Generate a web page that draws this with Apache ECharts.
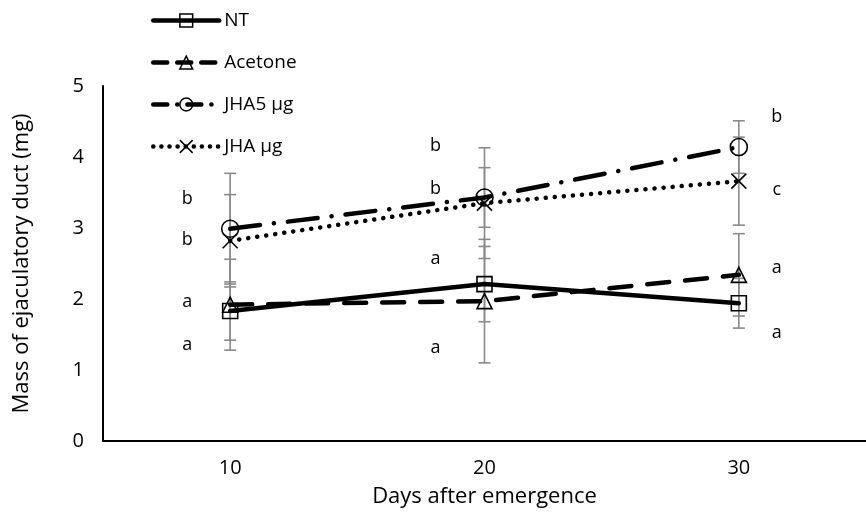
<!DOCTYPE html>
<html>
<head>
<meta charset="utf-8">
<script src="https://cdn.jsdelivr.net/npm/echarts@6/dist/echarts.min.js"></script>
<style>
	html, body { margin: 0; padding: 0; background: #fff; }
	#chart { width: 866px; height: 516px; }
</style>
</head>
<body>
<div id="chart"></div>
<script>
// categories
var days = ['10', '20', '30'];
var seriesNames = ['NT', 'Acetone', 'JHA5 µg', 'JHA µg'];

// means
var ntMean = [1.83, 2.21, 1.94];
var acetoneMean = [1.92, 1.97, 2.34];
var jha5Mean = [2.99, 3.43, 4.14];
var jhaMean = [2.82, 3.35, 3.66];

// error (+/-)
var ntErr = [0.41, 0.53, 0.35];
var acetoneErr = [0.64, 0.87, 0.58];
var jha5Err = [0.78, 0.42, 0.37];
var jhaErr = [0.65, 0.78, 0.62];

// significance letters per day, and their heights
var letters10 = ['b', 'b', 'a', 'a'];
var letters20 = ['b', 'b', 'a', 'a'];
var letters30 = ['b', 'c', 'a', 'a'];
var letterY10 = [3.41, 2.83, 1.96, 1.35];
var letterY20 = [4.16, 3.55, 2.56, 1.31];
var letterY30 = [4.57, 3.53, 2.44, 1.52];

var yTicks = [0, 1, 2, 3, 4, 5];

var FONT = '"Open Sans", "Noto Sans", sans-serif';

// 误差线
function errSeries(means, errs){
	return {
		type: 'custom',
		z: 1,
		silent: true,
		encode: { x: 0, y: 1 },
		renderItem: function(params, api){
			var x = api.value(0), m = api.value(1), e = api.value(2);
			var top = api.coord([x, m + e]);
			var bot = api.coord([x, m - e]);
			var hw = 6;
			var st = { stroke: '#8a8a8a', lineWidth: 1.6 };
			return {
				type: 'group',
				children: [
					{ type: 'line', shape: { x1: top[0], y1: top[1], x2: bot[0], y2: bot[1] }, style: st },
					{ type: 'line', shape: { x1: top[0] - hw, y1: top[1], x2: top[0] + hw, y2: top[1] }, style: st },
					{ type: 'line', shape: { x1: bot[0] - hw, y1: bot[1], x2: bot[0] + hw, y2: bot[1] }, style: st }
				]
			};
		},
		data: means.map(function(v, i){ return [i, v, errs[i]]; })
	};
}

var dashes = ['solid', [22, 16], [30, 14, 0.1, 14], [0.1, 9]];
var symbols = ['rect', 'triangle', 'circle', 'path://M0,0L10,10M10,0L0,10'];

function lineSeries(idx, means, size){
	return {
		name: seriesNames[idx],
		type: 'line',
		z: 3,
		data: means,
		symbol: symbols[idx],
		symbolSize: size,
		lineStyle: { color: '#000', width: 4.5, type: dashes[idx], cap: 'round' },
		itemStyle: { color: 'rgba(255,255,255,0)', borderColor: '#000', borderWidth: 1.6 },
		emphasis: { disabled: true }
	};
}

// 显著性字母
var letterData = [];
[[letters10, letterY10], [letters20, letterY20], [letters30, letterY30]].forEach(function(p, i){
	p[0].forEach(function(l, j){ letterData.push([i, p[1][j], l]); });
});
var letterDx = [-43, -49, 38];

var legendDash = ['solid', [14, 10], [14, 10, 0.1, 10], [0.1, 8]];

var option = {
	animation: false,
	backgroundColor: '#fff',
	textStyle: { fontFamily: FONT },
	grid: { left: 103, right: 0, top: 86, bottom: 75, containLabel: false },
	legend: {
		orient: 'vertical',
		left: 146,
		top: 6,
		itemWidth: 66,
		itemHeight: 16,
		itemGap: 23,
		data: seriesNames.map(function(n, i){
			return {
				name: n,
				lineStyle: { width: 4.5, type: legendDash[i], cap: 'round' },
				itemStyle: { color: 'rgba(255,255,255,0)', borderColor: '#000', borderWidth: 1.5 }
			};
		}),
		textStyle: { fontFamily: FONT, fontSize: 19, color: '#000' }
	},
	xAxis: {
		type: 'category',
		data: days,
		boundaryGap: true,
		name: 'Days after emergence',
		nameLocation: 'middle',
		nameGap: 45,
		nameTextStyle: { fontFamily: FONT, fontSize: 22, color: '#000' },
		axisLine: { lineStyle: { color: '#000', width: 2 } },
		axisTick: { show: false },
		axisLabel: { margin: 17, fontSize: 20, color: '#000', fontFamily: FONT },
		splitLine: { show: false }
	},
	yAxis: {
		type: 'value',
		min: yTicks[0],
		max: yTicks[yTicks.length - 1],
		interval: 1,
		name: 'Mass of ejaculatory duct (mg)',
		nameLocation: 'middle',
		nameGap: 70,
		nameTextStyle: { fontFamily: FONT, fontSize: 22, color: '#000' },
		axisLine: { show: true, lineStyle: { color: '#000', width: 2 } },
		axisTick: { show: false },
		axisLabel: { margin: 19, fontSize: 20, color: '#000', fontFamily: FONT },
		splitLine: { show: false }
	},
	series: [
		errSeries(ntMean, ntErr),
		errSeries(acetoneMean, acetoneErr),
		errSeries(jha5Mean, jha5Err),
		errSeries(jhaMean, jhaErr),
		lineSeries(0, ntMean, 15),
		lineSeries(1, acetoneMean, 15),
		lineSeries(2, jha5Mean, 17),
		lineSeries(3, jhaMean, 15),
		{
			type: 'custom',
			z: 4,
			silent: true,
			encode: { x: 0, y: 1 },
			renderItem: function(params, api){
				var c = api.coord([api.value(0), api.value(1)]);
				return {
					type: 'text',
					style: {
						x: c[0] + letterDx[api.value(0)],
						y: c[1],
						text: letterData[params.dataIndex][2],
						fill: '#000',
						font: '18px ' + FONT,
						align: 'center',
						verticalAlign: 'middle'
					}
				};
			},
			data: letterData
		}
	]
};

var chart = echarts.init(document.getElementById('chart'));
chart.setOption(option);
</script>
</body>
</html>
